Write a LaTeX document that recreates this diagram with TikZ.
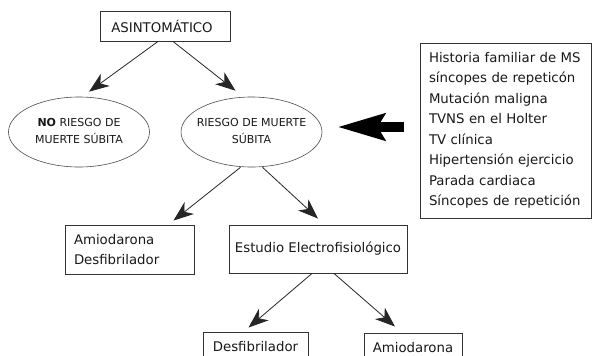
\documentclass[tikz,border=0pt]{standalone}
\usepackage{fontspec}
\setmainfont{DejaVu Sans}
\usetikzlibrary{arrows.meta,shapes.geometric,calc}
\newcommand{\elltext}[1]{\makebox[0pt]{\raisebox{-3pt}{\begin{tabular}{@{}c@{}}#1\end{tabular}}}}
\begin{document}
\begin{tikzpicture}[x=1pt,y=-1pt,
  every node/.style={text=black!90},
  boxnode/.style={draw=black!80, line width=0.9pt, rectangle, inner sep=0pt,
    font=\fontsize{13.3}{20.5}\selectfont},
  listbox/.style={boxnode, align=left, text width=#1},
  ellnode/.style={draw=black!70, line width=0.6pt, ellipse, inner sep=0pt,
    minimum width=141, minimum height=70,
    font=\fontsize{11}{17}\selectfont},
  arr/.style={draw=black!85, line width=0.8pt, -{Stealth[length=20pt,width=15pt,inset=6pt]}},
  bigarr/.style={draw=black, line width=10pt, -{Stealth[length=47pt,width=26pt,inset=7pt]}}
]
\clip (0,0) rectangle (592,356);
\fill[white] (0,0) rectangle (592,356);

\node[boxnode, minimum width=130, minimum height=30] (asin) at (165,26) {\hspace*{-6pt}ASINTOMÁTICO};

\node[ellnode] (noriesgo) at (79,132)
  {\elltext{\textbf{NO} RIESGO DE\\MUERTE SÚBITA}};
\node[ellnode] (riesgo) at (251.5,132)
  {\elltext{RIESGO DE MUERTE\\SÚBITA}};

\node[listbox=153, minimum width=171, minimum height=175, inner xsep=9pt] (factors) at (505.5,130.5)
  {Historia familiar de MS\\síncopes de repeticón\\Mutación maligna\\TVNS en el Holter\\TV clínica\\Hipertensión ejercicio\\Parada cardiaca\\Síncopes de repetición};

\node[listbox=111, minimum width=129, minimum height=49, inner xsep=9pt] (amio) at (129.5,249.5)
  {Amiodarona\\Desfibrilador};

\node[boxnode, minimum width=178, minimum height=48] (estudio) at (318,249)
  {Estudio Electrofisiológico};

\node[boxnode, minimum width=105, minimum height=30] (desf) at (255.5,347) {Desfibrilador};
\node[boxnode, minimum width=98, minimum height=30] (amio2) at (413,348) {Amiodarona};

\draw[arr] ([xshift=-7]asin.south) -- ($(noriesgo.north)+(10,-5)$);
\draw[arr] ([xshift=8]asin.south) -- ($(riesgo.north)+(-16,-6)$);
\draw[arr] ([xshift=-11]riesgo.south) -- ($(amio.north)+(44,-4)$);
\draw[arr] ([xshift=11]riesgo.south) -- ($(estudio.north)+(0,-6)$);
\draw[arr] ([xshift=-6]estudio.south) -- ($(desf.north)+(-7,-4)$);
\draw[arr] ([xshift=16]estudio.south) -- ($(amio2.north)+(-18,-6)$);

\draw[bigarr] ($(factors.west)+(-16,-3.5)$) -- ($(riesgo.east)+(15,-5)$);
\end{tikzpicture}
\end{document}
